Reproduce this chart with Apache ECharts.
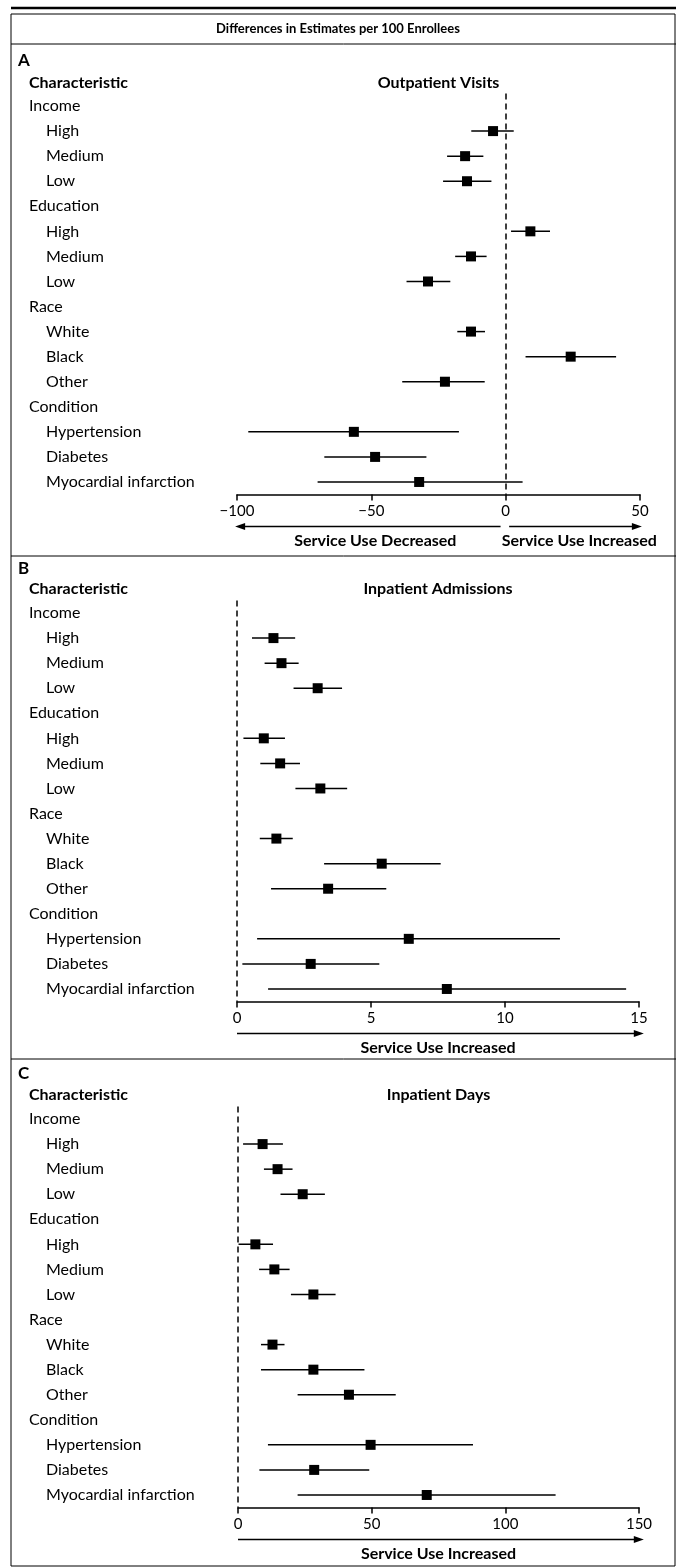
<!DOCTYPE html>
<html>
<head>
<meta charset="utf-8">
<script src="https://cdn.jsdelivr.net/npm/echarts@6/dist/echarts.min.js"></script>
<style>
html,body{margin:0;padding:0;background:#fff;}
#c{width:676px;height:1568px;}
</style>
</head>
<body>
<div id="c"></div>
<script>
// ---- data ----
const mainTitle = 'Differences in Estimates per 100 Enrollees';
const panelLetters = ['A', 'B', 'C'];
const panelTitles = ['Outpatient Visits', 'Inpatient Admissions', 'Inpatient Days'];
const headerLabel = 'Characteristic';
const groups = ['Income', 'Education', 'Race', 'Condition'];
const subgroups = [
  ['High', 'Medium', 'Low'],
  ['High', 'Medium', 'Low'],
  ['White', 'Black', 'Other'],
  ['Hypertension', 'Diabetes', 'Myocardial infarction']
];
const outpatientEst  = [-4.7, -15.1, -14.4, 9.2, -12.9, -28.9, -12.9, 24.2, -22.6, -56.5, -48.6, -32.2];
const outpatientLow  = [-12.8, -21.8, -23.3, 2.0, -18.8, -36.9, -18.0, 7.4, -38.5, -95.8, -67.5, -70.0];
const outpatientHigh = [3.0, -8.3, -5.3, 16.5, -7.1, -20.6, -7.7, 41.1, -7.8, -17.4, -29.5, 6.3];
const admissionsEst  = [1.36, 1.66, 3.01, 1.0, 1.61, 3.11, 1.47, 5.40, 3.40, 6.41, 2.75, 7.83];
const admissionsLow  = [0.56, 1.03, 2.11, 0.24, 0.87, 2.18, 0.85, 3.25, 1.27, 0.75, 0.2, 1.16];
const admissionsHigh = [2.17, 2.30, 3.92, 1.79, 2.35, 4.11, 2.08, 7.60, 5.57, 12.05, 5.31, 14.52];
const daysEst  = [9.2, 14.8, 24.2, 6.5, 13.6, 28.2, 12.9, 28.2, 41.5, 49.6, 28.5, 70.6];
const daysLow  = [1.9, 9.7, 15.9, 0.2, 7.9, 19.8, 8.6, 8.6, 22.3, 11.2, 8.0, 22.3];
const daysHigh = [16.8, 20.4, 32.5, 13.1, 19.3, 36.5, 17.4, 47.3, 59.0, 87.9, 49.1, 118.8];
const axisMin = [-100, 0, 0];
const axisMax = [50, 15, 150];
const axisInterval = [50, 5, 50];
const decreasedLabel = 'Service Use Decreased';
const increasedLabel = 'Service Use Increased';

// ---- build ----
const FONT = 'Lato';
const rows = [];
groups.forEach((g, gi) => {
  rows.push({ label: g, group: true });
  subgroups[gi].forEach(s => rows.push({ label: s, group: false }));
});
const dataRowIdx = rows.map((r, i) => r.group ? -1 : i).filter(i => i >= 0);
const yCats = rows.map((r, i) => i + '|' + r.label);

const panels = [
  { est: outpatientEst, low: outpatientLow, high: outpatientHigh },
  { est: admissionsEst, low: admissionsLow, high: admissionsHigh },
  { est: daysEst, low: daysLow, high: daysHigh }
];

// layout (pixels)
const grids = [
  { left: 237, width: 403, top: 93.5, height: 401 },
  { left: 237, width: 402, top: 600.5, height: 401 },
  { left: 238, width: 401, top: 1106.5, height: 401 }
];
const letterY = [61, 569, 1074];
const headY = [83, 589, 1095];
const sepY = [44, 556, 1059];

const chart = echarts.init(document.getElementById('c'), null, { renderer: 'canvas' });

const xAxes = [], yAxes = [], series = [];
panels.forEach((p, k) => {
  xAxes.push({
    type: 'value', gridIndex: k, min: axisMin[k], max: axisMax[k], interval: axisInterval[k],
    position: 'bottom',
    axisLine: { show: true, lineStyle: { color: '#000', width: 1.5 } },
    axisTick: { show: true, length: 6, lineStyle: { color: '#000', width: 1.5 } },
    axisLabel: { color: '#000', fontFamily: FONT, fontSize: 15, margin: 9,
      formatter: v => String(v).replace('-', '\u2212') },
    splitLine: { show: false }
  });
  yAxes.push({
    type: 'category', gridIndex: k, data: yCats, inverse: true,
    axisLine: { show: false }, axisTick: { show: false }, splitLine: { show: false },
    axisLabel: {
      interval: 0, align: 'left', margin: grids[k].left - 29,
      fontFamily: FONT, fontSize: 16, color: '#000',
      formatter: v => {
        const i = +v.split('|')[0];
        return (rows[i].group ? '{g|' : '{s|') + rows[i].label + '}';
      },
      rich: {
        g: { fontFamily: FONT, fontSize: 16, color: '#000' },
        s: { fontFamily: FONT, fontSize: 16, color: '#000', padding: [0, 0, 0, 17] }
      }
    }
  });
  series.push({
    type: 'custom', xAxisIndex: k, yAxisIndex: k,
    data: p.est.map((v, i) => [p.low[i], p.high[i], dataRowIdx[i]]),
    encode: { x: [0, 1], y: 2 },
    renderItem: (params, api) => {
      const y = api.value(2);
      const a = api.coord([api.value(0), y]);
      const b = api.coord([api.value(1), y]);
      return { type: 'line', shape: { x1: a[0], y1: a[1], x2: b[0], y2: b[1] },
        style: { stroke: '#000', lineWidth: 1.5 } };
    },
    z: 3, silent: true
  });
  series.push({
    type: 'scatter', xAxisIndex: k, yAxisIndex: k,
    data: p.est.map((v, i) => [v, dataRowIdx[i]]),
    symbol: 'rect', symbolSize: 10, itemStyle: { color: '#000', opacity: 1 },
    z: 4, silent: true,
    markLine: {
      silent: true, symbol: 'none', animation: false,
      label: { show: false },
      lineStyle: { color: '#000', width: 1.5, type: [6, 4] },
      data: [{ xAxis: 0 }]
    }
  });
});

chart.setOption({
  animation: false,
  backgroundColor: '#fff',
  grid: grids.map(g => Object.assign({ containLabel: false }, g)),
  xAxis: xAxes,
  yAxis: yAxes,
  series: series
});

// ---- decorations ----
const G = [];
function txt(x, y, s, opts) {
  G.push({ type: 'text', x: x, y: y, silent: true, style: Object.assign({
    text: s, fill: '#000', fontFamily: FONT, fontSize: 16,
    textAlign: 'left', textVerticalAlign: 'middle' }, opts || {}) });
}
function hline(x1, x2, y, w) {
  G.push({ type: 'line', silent: true, shape: { x1: x1, y1: y, x2: x2, y2: y },
    style: { stroke: '#000', lineWidth: w || 1 } });
}
function arrow(x1, x2, y) {
  const dir = x2 > x1 ? 1 : -1;
  hline(x1, x2 - dir * 6, y, 1.5);
  G.push({ type: 'polygon', silent: true,
    shape: { points: [[x2, y], [x2 - dir * 10, y - 3.5], [x2 - dir * 10, y + 3.5]] },
    style: { fill: '#000' } });
}
// frame
hline(11, 676, 8, 2.5);
G.push({ type: 'rect', silent: true, shape: { x: 11, y: 14, width: 664, height: 1552 },
  style: { fill: 'none', stroke: '#000', lineWidth: 1 } });
sepY.forEach(y => hline(11, 676, y, 1));
txt(338, 29, mainTitle, { textAlign: 'center', fontSize: 13, fontWeight: 'bold' });

panels.forEach((p, k) => {
  txt(18, letterY[k], panelLetters[k], { fontSize: 17, fontWeight: 'bold' });
  txt(29, headY[k], headerLabel, { fontSize: 16, fontWeight: 'bold' });
  const gx = grids[k].left + grids[k].width / 2;
  txt(gx, headY[k], panelTitles[k], { textAlign: 'center', fontSize: 16, fontWeight: 'bold' });
  const px = v => chart.convertToPixel({ xAxisIndex: k }, v);
  const axisY = grids[k].top + grids[k].height;
  const arrowY = axisY + 32;
  const labelY = axisY + 46;
  if (axisMin[k] < 0) {
    arrow(px(-1.9), px(axisMin[k] - 0.7), arrowY);
    arrow(px(1.3), px(axisMax[k] + 0.7), arrowY);
    txt(px(-48.5), labelY, decreasedLabel, { textAlign: 'center', fontWeight: 'bold' });
    txt(px(-1.5), labelY, increasedLabel, { textAlign: 'left', fontWeight: 'bold' });
  } else {
    const span = axisMax[k] - axisMin[k];
    arrow(px(axisMin[k]), px(axisMax[k] + span * 0.012), arrowY);
    txt(gx, labelY, increasedLabel, { textAlign: 'center', fontWeight: 'bold' });
  }
});

chart.setOption({ graphic: { elements: G } });
</script>
</body>
</html>
